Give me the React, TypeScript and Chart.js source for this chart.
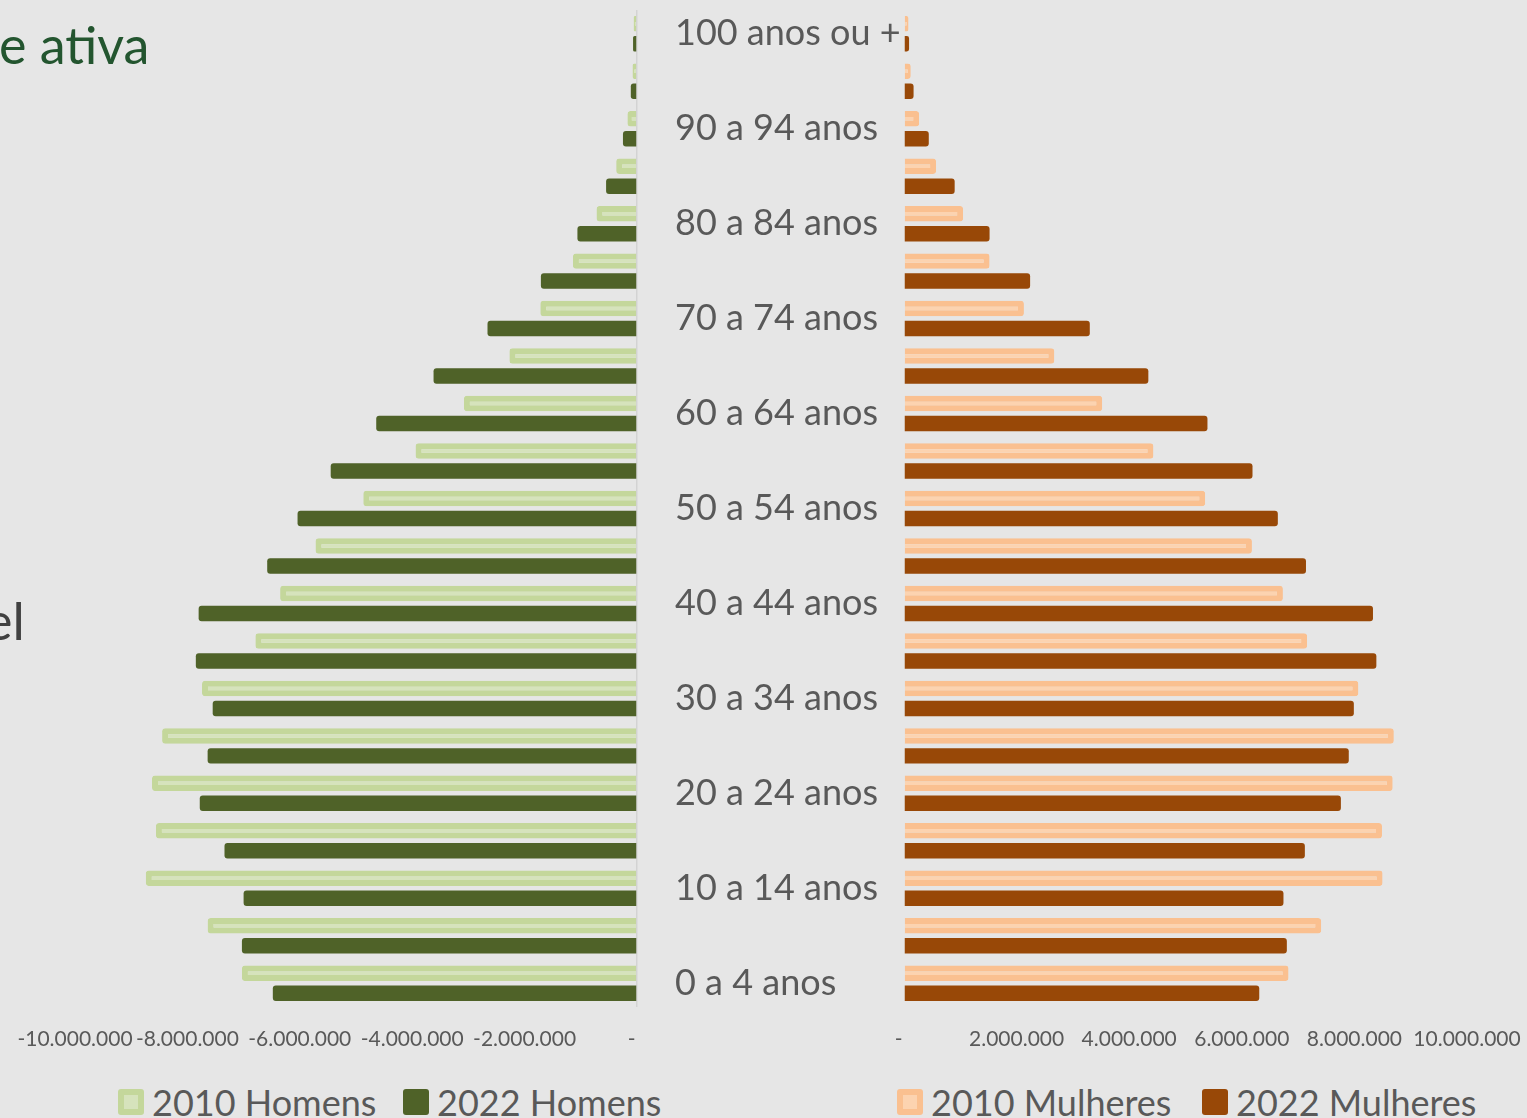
import React, { useEffect, useRef } from 'react';
import { Chart, registerables } from 'chart.js';

Chart.register(...registerables);

// ---- Data ----
const ageGroups = [
  '0 a 4 anos', '5 a 9 anos', '10 a 14 anos', '15 a 19 anos', '20 a 24 anos',
  '25 a 29 anos', '30 a 34 anos', '35 a 39 anos', '40 a 44 anos', '45 a 49 anos',
  '50 a 54 anos', '55 a 59 anos', '60 a 64 anos', '65 a 69 anos', '70 a 74 anos',
  '75 a 79 anos', '80 a 84 anos', '85 a 89 anos', '90 a 94 anos', '95 a 99 anos',
  '100 anos ou +',
];

const men2010 = [
  7030000, 7640000, 8740000, 8560000, 8630000, 8450000, 7740000, 6790000, 6350000, 5720000,
  4870000, 3940000, 3080000, 2270000, 1720000, 1140000, 720000, 370000, 170000, 80000, 60000,
];
const men2022 = [
  6480000, 7030000, 7000000, 7340000, 7780000, 7640000, 7550000, 7850000, 7800000, 6580000,
  6040000, 5450000, 4640000, 3620000, 2660000, 1710000, 1060000, 550000, 250000, 110000, 70000,
];
const women2010 = [
  6830000, 7410000, 8500000, 8490000, 8680000, 8700000, 8070000, 7160000, 6730000, 6180000,
  5350000, 4430000, 3520000, 2670000, 2130000, 1520000, 1050000, 570000, 270000, 120000, 80000,
];
const women2022 = [
  6310000, 6800000, 6740000, 7120000, 7760000, 7900000, 7990000, 8390000, 8330000, 7140000,
  6640000, 6190000, 5390000, 4340000, 3300000, 2240000, 1520000, 900000, 440000, 170000, 90000,
];

const seriesLabels = ['2010 Homens', '2022 Homens', '2010 Mulheres', '2022 Mulheres'];
const xTicksMen = [-10000000, -8000000, -6000000, -4000000, -2000000, 0];
const xTicksWomen = [0, 2000000, 4000000, 6000000, 8000000, 10000000];

// ---- Styles ----
const BG = '#e6e6e6';
const TEXT = '#595959';
const FONT = 'Lato, "Open Sans", sans-serif';
const GREEN_LIGHT_EDGE = '#c4d79b';
const GREEN_LIGHT_FILL = '#d6e3bc';
const GREEN_DARK = '#4f6228';
const ORANGE_LIGHT_EDGE = '#fac090';
const ORANGE_LIGHT_FILL = '#fcd3b0';
const ORANGE_DARK = '#984807';

function fmt(v: number): string {
  if (v === 0) return '-\u00a0\u00a0';
  const s = String(Math.abs(Math.round(v))).replace(/\B(?=(\d{3})+(?!\d))/g, '.');
  return (v < 0 ? '-' : '') + s;
}

function baseOptions(min: number, max: number, ticks: number[], padding: any, yAxis: any) {
  return {
    indexAxis: 'y' as const,
    animation: false as const,
    responsive: false,
    maintainAspectRatio: false,
    events: [],
    layout: { padding },
    datasets: { bar: { categoryPercentage: 0.842, barPercentage: 0.775 } },
    plugins: { legend: { display: false }, tooltip: { enabled: false } },
    scales: {
      x: {
        type: 'linear' as const,
        min,
        max,
        afterBuildTicks: (scale: any) => {
          scale.ticks = ticks.map((value) => ({ value }));
        },
        ticks: {
          autoSkip: false,
          maxRotation: 0,
          padding: 20,
          color: TEXT,
          font: { family: FONT, size: 21 },
          callback: (v: any) => fmt(Number(v)),
        },
        grid: {
          drawTicks: false,
          lineWidth: 1.5,
          color: (ctx: any) => (ctx.tick && ctx.tick.value === 0 && min < 0 ? '#d3d3d3' : 'rgba(0,0,0,0)'),
        },
        border: { display: false },
        afterFit: (scale: any) => {
          scale.height = 63;
          scale.paddingLeft = 0;
          scale.paddingRight = 0;
        },
      },
      y: yAxis,
    },
  };
}

function ChartCanvas({ config, width, height, left }: { config: any; width: number; height: number; left: number }) {
  const ref = useRef<HTMLCanvasElement | null>(null);
  useEffect(() => {
    if (!ref.current) return;
    const chart = new Chart(ref.current, config);
    return () => chart.destroy();
  }, []);
  return (
    <canvas
      ref={ref}
      width={width}
      height={height}
      style={{ position: 'absolute', left, top: 0, width, height }}
    />
  );
}

const menConfig = {
  type: 'bar',
  data: {
    labels: ageGroups,
    datasets: [
      {
        label: seriesLabels[0],
        data: men2010.map((v) => -v),
        backgroundColor: GREEN_LIGHT_FILL,
        borderColor: GREEN_LIGHT_EDGE,
        borderWidth: 6,
        borderRadius: 3,
        borderSkipped: 'start',
      },
      {
        label: seriesLabels[1],
        data: men2022.map((v) => -v),
        backgroundColor: GREEN_DARK,
        borderWidth: 0,
        borderRadius: 3,
        borderSkipped: 'start',
      },
    ],
  },
  options: baseOptions(-10000000, 0, xTicksMen, { top: 10, left: 75, right: 0, bottom: 0 }, {
    type: 'category',
    position: 'right',
    reverse: true,
    grid: { display: false, drawTicks: false },
    border: { display: false },
    ticks: {
      autoSkip: false,
      crossAlign: 'near',
      padding: 38,
      color: TEXT,
      font: { family: FONT, size: 36 },
      callback: (_v: any, i: number) => (i % 2 === 0 ? ageGroups[i] : ''),
    },
    afterFit: (scale: any) => {
      scale.width = 273;
      scale.paddingTop = 0;
      scale.paddingBottom = 0;
    },
  }),
};

const womenConfig = {
  type: 'bar',
  data: {
    labels: ageGroups,
    datasets: [
      {
        label: seriesLabels[2],
        data: women2010,
        backgroundColor: ORANGE_LIGHT_FILL,
        borderColor: ORANGE_LIGHT_EDGE,
        borderWidth: 6,
        borderRadius: 3,
        borderSkipped: 'start',
      },
      {
        label: seriesLabels[3],
        data: women2022,
        backgroundColor: ORANGE_DARK,
        borderWidth: 0,
        borderRadius: 3,
        borderSkipped: 'start',
      },
    ],
  },
  options: baseOptions(0, 10000000, xTicksWomen, { top: 10, left: 24, right: 60, bottom: 0 }, {
    type: 'category',
    reverse: true,
    display: false,
  }),
};

const legendItems = [
  { text: seriesLabels[0], left: 118, fill: GREEN_LIGHT_FILL, edge: GREEN_LIGHT_EDGE, light: true },
  { text: seriesLabels[1], left: 403, fill: GREEN_DARK, edge: GREEN_DARK, light: false },
  { text: seriesLabels[2], left: 897, fill: ORANGE_LIGHT_FILL, edge: ORANGE_LIGHT_EDGE, light: true },
  { text: seriesLabels[3], left: 1202, fill: ORANGE_DARK, edge: ORANGE_DARK, light: false },
];

export default function App() {
  return (
    <div
      style={{
        position: 'fixed',
        left: 0,
        top: 0,
        width: 1527,
        height: 1118,
        overflow: 'hidden',
        background: BG,
        fontFamily: FONT,
      }}
    >
      <div
        style={{
          position: 'absolute',
          left: -1,
          top: 14,
          fontSize: 52,
          lineHeight: '60px',
          color: '#23552f',
          whiteSpace: 'nowrap',
        }}
      >
        e ativa
      </div>
      <div
        style={{
          position: 'absolute',
          left: -15,
          top: 590,
          fontSize: 52,
          lineHeight: '60px',
          color: '#404040',
          whiteSpace: 'nowrap',
        }}
      >
        el
      </div>
      <ChartCanvas config={menConfig} width={910} height={1070} left={0} />
      <ChartCanvas config={womenConfig} width={647} height={1070} left={880} />
      {legendItems.map((it) => (
        <div
          key={it.text}
          style={{
            position: 'absolute',
            left: it.left,
            top: 1084,
            height: 36,
            display: 'flex',
            alignItems: 'center',
            gap: 8,
            whiteSpace: 'nowrap',
          }}
        >
          <div
            style={{
              width: 26,
              height: 26,
              boxSizing: 'border-box',
              borderRadius: 3,
              background: it.fill,
              border: it.light ? `6px solid ${it.edge}` : 'none',
            }}
          />
          <span style={{ fontSize: 36, lineHeight: '36px', color: TEXT }}>{it.text}</span>
        </div>
      ))}
    </div>
  );
}
